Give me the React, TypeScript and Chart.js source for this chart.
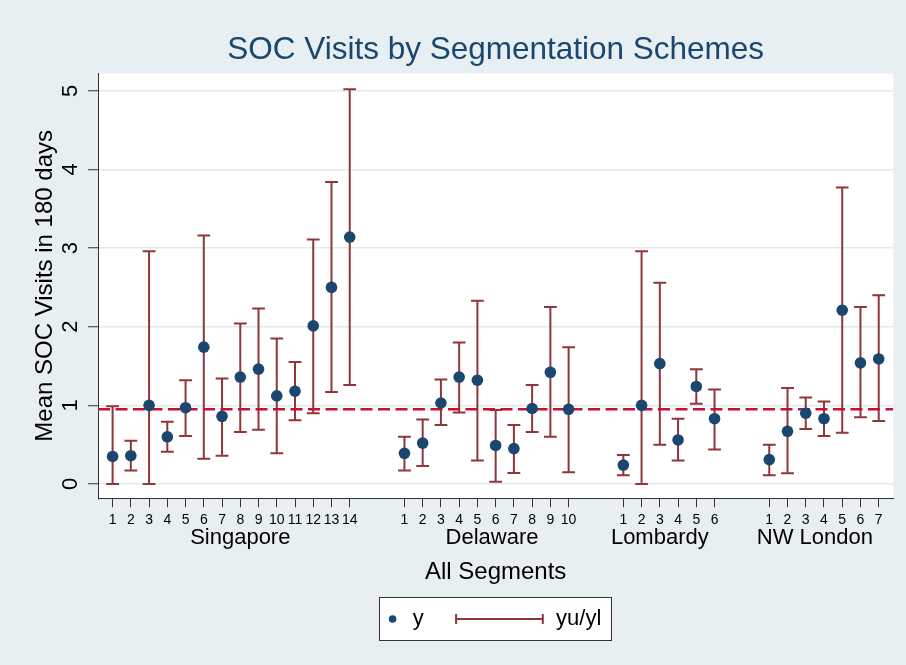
import { useEffect, useRef } from 'react';
import { Chart, registerables } from 'chart.js';

Chart.register(...registerables);

// ---------- data ----------
const groupNames = ['Singapore', 'Delaware', 'Lombardy', 'NW London'];

const singaporeMean = [0.35, 0.36, 1.0, 0.6, 0.97, 1.74, 0.86, 1.36, 1.46, 1.12, 1.18, 2.01, 2.5, 3.14];
const singaporeUpper = [0.99, 0.55, 2.96, 0.79, 1.32, 3.16, 1.34, 2.04, 2.23, 1.85, 1.55, 3.11, 3.84, 5.02];
const singaporeLower = [0.0, 0.17, 0.0, 0.41, 0.61, 0.32, 0.36, 0.66, 0.69, 0.39, 0.81, 0.9, 1.17, 1.26];

const delawareMean = [0.39, 0.52, 1.03, 1.36, 1.32, 0.49, 0.45, 0.96, 1.42, 0.95];
const delawareUpper = [0.6, 0.82, 1.33, 1.8, 2.33, 0.94, 0.75, 1.26, 2.25, 1.74];
const delawareLower = [0.17, 0.23, 0.75, 0.91, 0.3, 0.03, 0.14, 0.66, 0.6, 0.15];

const lombardyMean = [0.24, 1.0, 1.53, 0.56, 1.24, 0.83];
const lombardyUpper = [0.37, 2.96, 2.56, 0.83, 1.46, 1.2];
const lombardyLower = [0.11, 0.0, 0.5, 0.3, 1.02, 0.44];

const londonMean = [0.31, 0.67, 0.9, 0.83, 2.21, 1.54, 1.59];
const londonUpper = [0.5, 1.22, 1.1, 1.05, 3.77, 2.25, 2.4];
const londonLower = [0.11, 0.135, 0.7, 0.61, 0.65, 0.85, 0.8];

const overallMean = 0.95;
const yTickValues = [0, 1, 2, 3, 4, 5];
const groupLabelAt = [8, 21.8, 31, 39.5];
const xMin = 0.2;
const xMax = 43.8;
const yMin = -0.182;
const yMax = 5.221;
const groupGap = 2;
const capHalf = 0.35;

const groupMeans = [singaporeMean, delawareMean, lombardyMean, londonMean];
const groupUppers = [singaporeUpper, delawareUpper, lombardyUpper, londonUpper];
const groupLowers = [singaporeLower, delawareLower, lombardyLower, londonLower];

// ---------- styles ----------
const FONT = '"Liberation Sans", Arial, Helvetica, sans-serif';
const NAVY = '#1a476f';
const MAROON = '#90353b';
const DASH = '#c8102e';
const BG = '#e8eff2';
const GRID = '#e2eaee';
const AXIS = '#333333';

// build positions
const tickLabelByPos = new Map<number, string>();
const points: { x: number; y: number }[] = [];
const bars: { x: number; y: number | null }[] = [];
{
  let p = 1;
  groupMeans.forEach((means, g) => {
    means.forEach((m, i) => {
      const x = p + i;
      tickLabelByPos.set(x, String(i + 1));
      points.push({ x, y: m });
      const hi = groupUppers[g][i];
      const lo = groupLowers[g][i];
      bars.push({ x, y: lo }, { x, y: hi }, { x, y: null });
      bars.push({ x: x - capHalf, y: hi }, { x: x + capHalf, y: hi }, { x, y: null });
      bars.push({ x: x - capHalf, y: lo }, { x: x + capHalf, y: lo }, { x, y: null });
    });
    p += means.length + groupGap;
  });
}
const xTickPositions = Array.from(tickLabelByPos.keys());

const backgroundPlugin = {
  id: 'bgPlot',
  beforeDraw(chart: any) {
    const { ctx, chartArea, width, height } = chart;
    ctx.save();
    ctx.fillStyle = BG;
    ctx.fillRect(0, 0, width, height);
    ctx.fillStyle = '#ffffff';
    ctx.fillRect(chartArea.left, chartArea.top, chartArea.right - chartArea.left, chartArea.bottom - chartArea.top);
    ctx.restore();
  },
};

const legendPlugin = {
  id: 'stataLegend',
  afterDraw(chart: any) {
    const { ctx, chartArea } = chart;
    const sg = chart.scales.xGroup;
    const w = 231.7;
    const h = 43.4;
    const cx = (chartArea.left + chartArea.right) / 2 - 0.7;
    const left = cx - w / 2;
    const top = sg.bottom + 11;
    const cy = top + h / 2;
    ctx.save();
    ctx.fillStyle = '#ffffff';
    ctx.fillRect(left, top, w, h);
    ctx.strokeStyle = AXIS;
    ctx.lineWidth = 1;
    ctx.strokeRect(Math.round(left) + 0.5, Math.round(top) + 0.5, Math.round(w), Math.round(h));
    // dot
    ctx.fillStyle = NAVY;
    ctx.beginPath();
    ctx.arc(left + 13.5, cy, 3.8, 0, Math.PI * 2);
    ctx.fill();
    // texts
    ctx.fillStyle = '#000';
    ctx.font = `22px ${FONT}`;
    ctx.textBaseline = 'middle';
    ctx.textAlign = 'left';
    ctx.fillText('y', left + 33.7, cy);
    ctx.fillText('yu/yl', left + 177, cy);
    // error bar glyph
    ctx.strokeStyle = MAROON;
    ctx.lineWidth = 2;
    ctx.beginPath();
    ctx.moveTo(left + 77, cy);
    ctx.lineTo(left + 163.7, cy);
    ctx.moveTo(left + 77, cy - 5);
    ctx.lineTo(left + 77, cy + 5);
    ctx.moveTo(left + 163.7, cy - 5);
    ctx.lineTo(left + 163.7, cy + 5);
    ctx.stroke();
    ctx.restore();
  },
};

export default function App() {
  const ref = useRef<HTMLCanvasElement | null>(null);

  useEffect(() => {
    if (!ref.current) return;
    Chart.defaults.font.family = FONT;
    Chart.defaults.color = '#000';
    const chart = new Chart(ref.current, {
      type: 'scatter',
      data: {
        datasets: [
          {
            label: 'y',
            data: points,
            pointRadius: 5.8,
            pointHoverRadius: 5.8,
            pointBackgroundColor: NAVY,
            pointBorderColor: NAVY,
            pointBorderWidth: 0,
            order: 1,
          },
          {
            label: 'mean',
            data: [
              { x: xMin, y: overallMean },
              { x: xMax, y: overallMean },
            ],
            showLine: true,
            borderColor: DASH,
            borderWidth: 2.5,
            borderDash: [12, 5.5],
            pointRadius: 0,
            pointHoverRadius: 0,
            order: 2,
          },
          {
            label: 'yu/yl',
            data: bars as any,
            showLine: true,
            spanGaps: false,
            borderColor: MAROON,
            borderWidth: 2,
            pointRadius: 0,
            pointHoverRadius: 0,
            order: 3,
          },
        ],
      },
      options: {
        animation: false,
        responsive: true,
        maintainAspectRatio: false,
        devicePixelRatio: 1,
        events: [],
        layout: { padding: { top: 0, left: 0, right: 12.7, bottom: 78.7 } },
        plugins: {
          legend: { display: false },
          tooltip: { enabled: false },
          title: {
            display: true,
            fullSize: false,
            text: 'SOC Visits by Segmentation Schemes',
            color: NAVY,
            font: { size: 31.5, weight: 'normal', family: FONT },
            padding: { top: 31.6, bottom: 4.0 },
          },
        },
        scales: {
          x: {
            type: 'linear',
            position: 'bottom',
            min: xMin,
            max: xMax,
            weight: 0,
            afterBuildTicks: (s: any) => {
              s.ticks = xTickPositions.map((v) => ({ value: v }));
            },
            afterFit: (s: any) => {
              s.height = 29;
            },
            ticks: {
              autoSkip: false,
              maxRotation: 0,
              minRotation: 0,
              padding: 4.3,
              font: { size: 14, family: FONT },
              color: '#000',
              callback: (v: any) => tickLabelByPos.get(v) ?? '',
            },
            grid: {
              display: true,
              drawOnChartArea: false,
              drawTicks: true,
              tickLength: 9,
              tickColor: AXIS,
              tickWidth: 1,
            },
            border: { display: true, color: AXIS, width: 1 },
          },
          xGroup: {
            type: 'linear',
            axis: 'x',
            position: 'bottom',
            min: xMin,
            max: xMax,
            weight: 1,
            afterBuildTicks: (s: any) => {
              s.ticks = groupLabelAt.map((v) => ({ value: v }));
            },
            afterFit: (s: any) => {
              s.height = 59;
            },
            ticks: {
              autoSkip: false,
              maxRotation: 0,
              minRotation: 0,
              padding: -2.2,
              font: { size: 22, family: FONT },
              color: '#000',
              callback: (_v: any, i: number) => groupNames[i],
            },
            grid: { display: false, drawTicks: false },
            border: { display: false },
            title: {
              display: true,
              text: 'All Segments',
              color: '#000',
              font: { size: 24, family: FONT },
              padding: { top: 0, bottom: -0.6 },
            },
          },
          y: {
            type: 'linear',
            position: 'left',
            min: yMin,
            max: yMax,
            afterBuildTicks: (s: any) => {
              s.ticks = yTickValues.map((v) => ({ value: v }));
            },
            afterFit: (s: any) => {
              s.width = 98;
            },
            ticks: {
              minRotation: 90,
              maxRotation: 90,
              crossAlign: 'center',
              padding: 10.9,
              font: { size: 22, family: FONT },
              color: '#000',
              callback: (v: any) => String(v),
            },
            grid: {
              display: true,
              color: GRID,
              lineWidth: 1.5,
              drawTicks: true,
              tickLength: 10,
              tickColor: AXIS,
              tickWidth: 1,
            },
            border: { display: true, color: AXIS, width: 1 },
            title: {
              display: true,
              text: 'Mean SOC Visits in 180 days',
              color: '#000',
              font: { size: 24, family: FONT },
              padding: { top: 30.6, bottom: 0 },
            },
          },
        },
      } as any,
      plugins: [backgroundPlugin, legendPlugin],
    });
    return () => chart.destroy();
  }, []);

  return (
    <div style={{ position: 'fixed', left: 0, top: 0, width: 906, height: 665 }}>
      <canvas ref={ref} />
    </div>
  );
}
